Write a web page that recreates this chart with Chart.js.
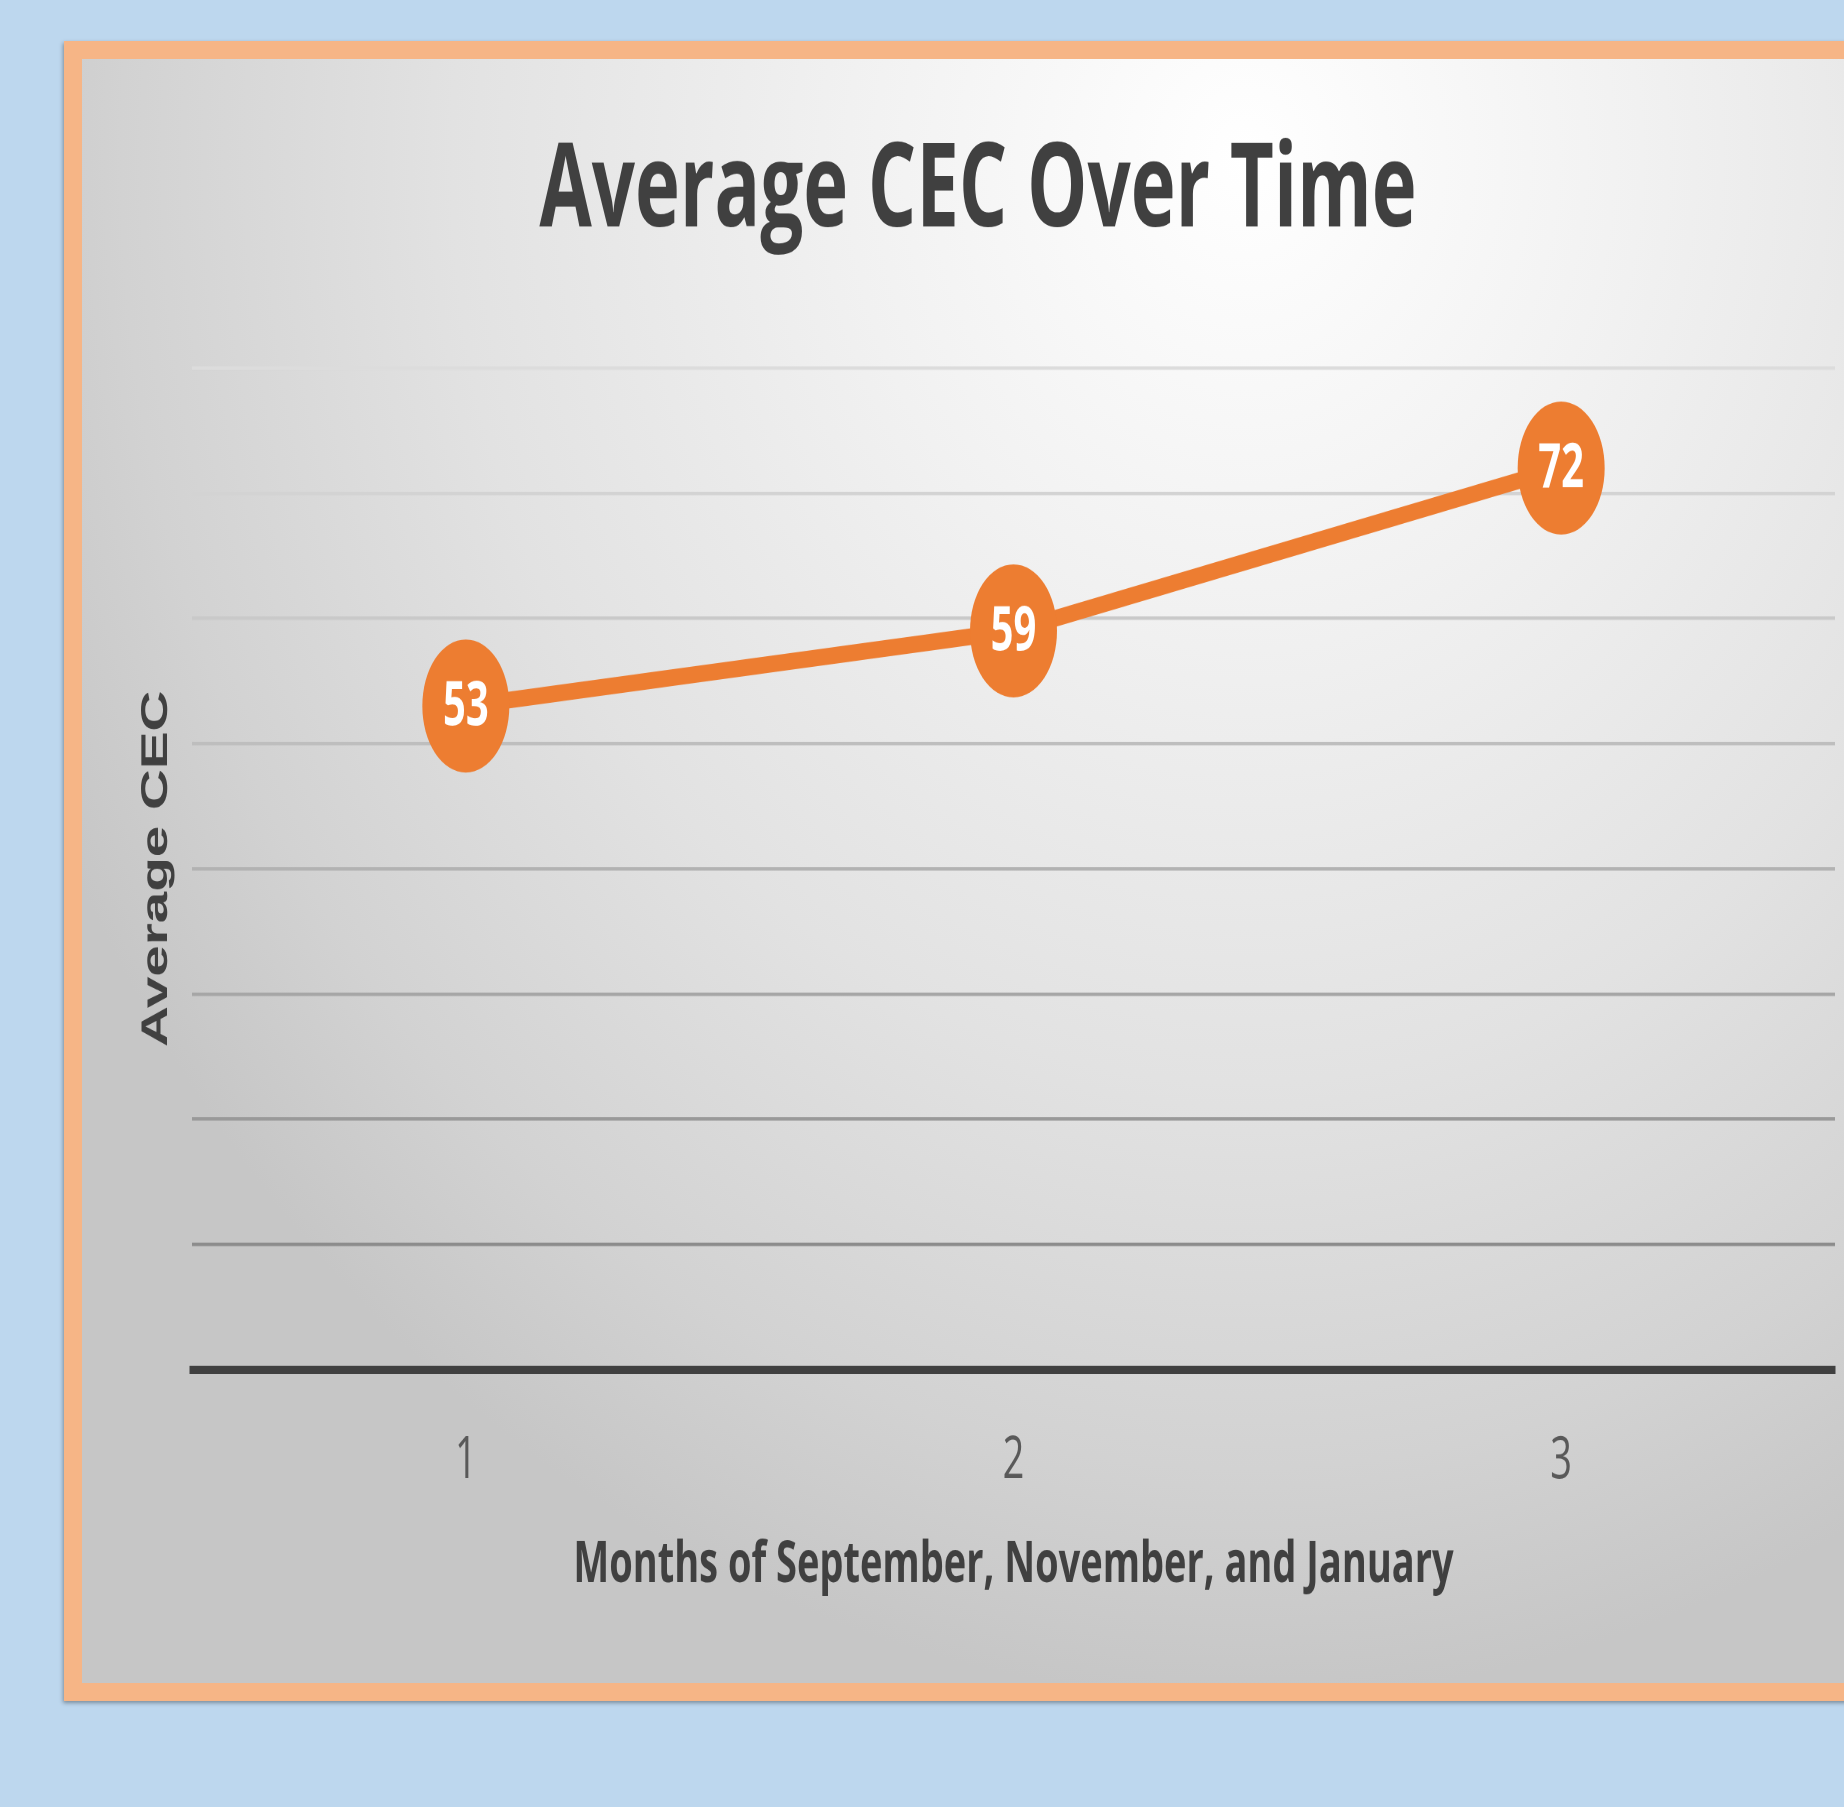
<!DOCTYPE html>
<html>
<head>
<meta charset="utf-8">
<title>Average CEC Over Time</title>
<script src="https://cdn.jsdelivr.net/npm/chart.js@4.4.1/dist/chart.umd.min.js"></script>
<style>
    html, body {
        margin: 0;
        padding: 0;
        width: 1844px;
        height: 1807px;
        overflow: hidden;
        background: #BDD7EE;
    }
    /* orange picture frame around the pasted chart */
    #frame {
        position: absolute;
        left: 64px;
        top: 41px;
        width: 1900px;
        height: 1660px;
        box-sizing: border-box;
        border: 18px solid #F6B586;
        box-shadow: -1px 2px 4px rgba(0, 0, 0, 0.35);
        overflow: hidden;
    }
    #panel {
        position: absolute;
        left: 0;
        top: 0;
        width: 1762px;
        height: 1624px;
        background: radial-gradient(ellipse 75% 95% at 66% 6%, #ffffff 0%, #f1f1f1 30%, #e2e2e2 60%, #d2d2d2 85%, #c6c6c6 100%);
    }
    /* the chart was stretched vertically when pasted, so draw it flat and stretch it */
    #chartCanvas {
        position: absolute;
        left: 0;
        top: 0;
        transform: scaleY(1.5292);
        transform-origin: 0 0;
    }
</style>
</head>
<body>
<div id="frame">
    <div id="panel">
        <canvas id="chartCanvas" width="1762" height="1062"></canvas>
    </div>
</div>

<script>
// Data
const months = ['1', '2', '3'];
const averageCEC = [53, 59, 72];

const chartTitle = 'Average CEC Over Time';
const xAxisTitle = 'Months of September, November, and January';
const yAxisTitle = 'Average CEC';

// gridlines get darker toward the bottom of the plot
const gridColors = {
    0: 'rgba(0,0,0,0)',
    10: '#8c8c8c',
    20: '#999999',
    30: '#a6a6a6',
    40: '#b2b2b2',
    50: '#bebebe',
    60: '#c9c9c9',
    70: '#d3d3d3',
    80: '#dcdcdc'
};

/**
 * Writes the value in white on top of each marker
 */
const valueLabels = {
    id: 'valueLabels',
    afterDatasetsDraw(chart) {
        const ctx = chart.ctx;
        const meta = chart.getDatasetMeta(0);
        ctx.save();
        ctx.fillStyle = '#ffffff';
        ctx.font = 'bold 40px "Open Sans"';
        ctx.textAlign = 'center';
        ctx.textBaseline = 'middle';
        meta.data.forEach((point, i) => {
            ctx.fillText(String(averageCEC[i]), point.x, point.y + 1);
        });
        ctx.restore();
    }
};

const ctx = document.getElementById('chartCanvas').getContext('2d');

new Chart(ctx, {
    type: 'line',
    data: {
        labels: months,
        datasets: [{
            label: yAxisTitle,
            data: averageCEC,
            borderColor: '#ED7D31',
            backgroundColor: '#ED7D31',
            borderWidth: 11,
            tension: 0,
            pointRadius: 43.5,
            pointHoverRadius: 43.5,
            pointBorderWidth: 0,
            pointBackgroundColor: '#ED7D31'
        }]
    },
    options: {
        responsive: false,
        animation: false,
        devicePixelRatio: 2,
        layout: {
            // no extra room for the big markers, the plot runs almost to the edge
            autoPadding: false,
            padding: { left: 39, right: 9, top: 0, bottom: 0 }
        },
        plugins: {
            legend: { display: false },
            tooltip: { enabled: false },
            title: {
                display: true,
                text: chartTitle,
                color: '#404040',
                font: { family: '"Open Sans"', size: 76, weight: 'bold', lineHeight: 1 },
                padding: { top: 50, bottom: 76 }
            }
        },
        scales: {
            x: {
                offset: true,
                // tick marks hidden, tickLength only pushes the labels down
                grid: { display: false, drawTicks: true, tickLength: 41 },
                border: { display: true, color: '#404040', width: 5.5 },
                ticks: {
                    color: '#595959',
                    padding: 0,
                    font: { family: '"Open Sans"', size: 38, lineHeight: 1 }
                },
                title: {
                    display: true,
                    text: xAxisTitle,
                    color: '#404040',
                    font: { family: '"Open Sans"', size: 38, weight: 'bold', lineHeight: 1 },
                    padding: { top: 0, bottom: 58 }
                },
                afterFit: scale => { scale.height = 205; }
            },
            y: {
                min: 0,
                max: 80,
                grid: {
                    drawTicks: false,
                    lineWidth: 2.2,
                    color: c => gridColors[c.tick.value] || '#bfbfbf'
                },
                border: { display: false },
                ticks: { display: false, stepSize: 10 },
                title: {
                    display: true,
                    text: yAxisTitle,
                    color: '#404040',
                    font: { family: '"Liberation Sans"', size: 37, weight: 'bold', lineHeight: 1 },
                    padding: { top: 17.5, bottom: 0 }
                },
                afterFit: scale => { scale.width = 71; }
            }
        }
    },
    plugins: [valueLabels]
});
</script>
</body>
</html>
